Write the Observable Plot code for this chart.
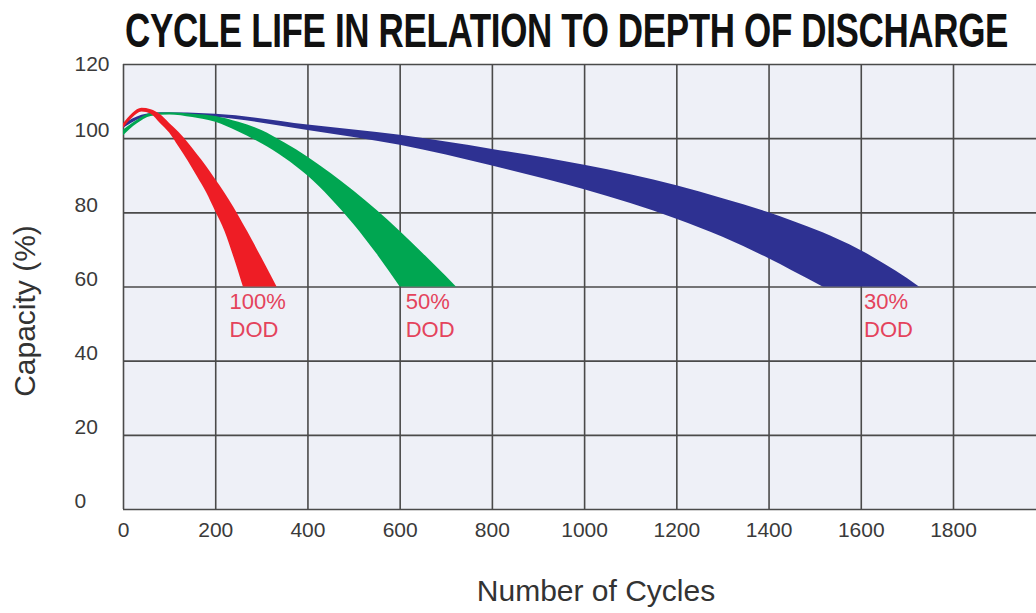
<!DOCTYPE html>
<html><head><meta charset="utf-8">
<script src="https://cdn.jsdelivr.net/npm/d3@7"></script>
<script src="https://cdn.jsdelivr.net/npm/@observablehq/plot@0.6"></script>
<style>
html,body{margin:0;padding:0;background:#fff;width:1036px;height:613px;overflow:hidden;}
#title{height:58px;position:relative;}
#title span{position:absolute;left:125px;top:6px;font-family:"Liberation Sans",Arial,sans-serif;font-weight:bold;font-size:49px;line-height:1;color:#111;white-space:nowrap;transform-origin:0 0;letter-spacing:-0.5px;}
#chart svg{display:block;}
</style></head><body>
<div id="title"><span>CYCLE LIFE IN RELATION TO DEPTH OF DISCHARGE</span></div>
<div id="chart"></div>
<script>
// ---- data ----
const xTicks = [0, 200, 400, 600, 800, 1000, 1200, 1400, 1600, 1800];
const yTicks = [0, 20, 40, 60, 80, 100, 120];
const cutoff = 60; // bands are cut off at 60 % capacity

// 100% DOD band (red): cycles, upper edge and lower edge of capacity (%)
const redCycles = [0, 20, 40, 60, 80, 100, 120, 140, 160, 180, 200, 220, 240, 260, 280, 300, 320, 333, 345];
const redUpper  = [104, 106.8, 108.2, 107.8, 106.5, 104.1, 101.7, 98.9, 95.7, 92.5, 88.9, 85.3, 81.3, 76.9, 72.5, 67.8, 63.1, 60, 56.8];
const redLower  = [102.8, 105.6, 107.2, 106.6, 104.1, 101.5, 97.8, 94, 89.8, 85.5, 80.3, 75, 67.8, 60, 52.4, 44.8, 37.2, 32.3, 27.7];

// 50% DOD band (green)
const greenCycles = [0, 30, 60, 100, 150, 200, 250, 300, 350, 400, 450, 500, 550, 600, 650, 700, 722, 740];
const greenUpper  = [102.3, 105, 106.8, 107, 106.6, 106.0, 104.4, 102.2, 98.8, 95.0, 90.6, 85.8, 80.6, 75.0, 69.0, 62.8, 60, 57.6];
const greenLower  = [100.8, 104, 106, 106.4, 105.7, 104.4, 101.8, 98.6, 94.7, 89.9, 83.8, 76.8, 68.8, 60, 50.8, 41.6, 37.6, 34.3];

// 30% DOD band (blue)
const blueCycles = [0, 40, 80, 200, 400, 600, 800, 1000, 1200, 1300, 1400, 1450, 1517, 1550, 1600, 1650, 1700, 1726, 1760];
const blueUpper  = [103.8, 106.3, 107, 106.6, 103.7, 100.9, 97.1, 92.8, 87.3, 83.8, 80.0, 77.8, 74.6, 72.8, 69.8, 66.2, 62.3, 60, 56.8];
const blueLower  = [102.8, 105.5, 106.6, 105.8, 102.2, 98.2, 92.6, 86.2, 78.3, 73.4, 67.6, 64.4, 60, 57.8, 54.4, 51.0, 47.6, 45.8, 43.5];

const labelText = ["100%\nDOD", "50%\nDOD", "30%\nDOD"];
const labelCycles = [230, 612, 1606];
const labelY = 59.4;

// ---- build tables ----
const band = (xs, up, lo) => xs.map((x, i) => ({x, y1: lo[i], y2: up[i]}));
const red = band(redCycles, redUpper, redLower);
const green = band(greenCycles, greenUpper, greenLower);
const blue = band(blueCycles, blueUpper, blueLower);
const labels = labelText.map((t, i) => ({t, x: labelCycles[i], y: labelY}));

const font = "'Liberation Sans', Arial, Helvetica, sans-serif";

const chart = Plot.plot({
  width: 1036,
  height: 555,
  marginTop: 6,
  marginBottom: 104,
  marginLeft: 123,
  marginRight: 0,
  style: {fontFamily: font, background: "#fff", color: "#3a3a3a", overflow: "visible"},
  x: {domain: [0, 1980], label: null},
  y: {domain: [0, 120], label: null},
  marks: [
    Plot.frame({fill: "#eef0f7", stroke: null}),
    Plot.gridX(xTicks, {stroke: "#4a4a4a", strokeOpacity: 1, strokeWidth: 1.6}),
    Plot.gridY(yTicks, {stroke: "#4a4a4a", strokeOpacity: 1, strokeWidth: 1.6}),
    Plot.areaY(blue, {x: "x", y1: "y1", y2: "y2", fill: "#2e3192", curve: "monotone-x"}),
    Plot.areaY(green, {x: "x", y1: "y1", y2: "y2", fill: "#00a651", curve: "monotone-x"}),
    Plot.areaY(red, {x: "x", y1: "y1", y2: "y2", fill: "#ee1d25", curve: "monotone-x"}),
    Plot.text(labels, {x: "x", y: "y", text: "t", textAnchor: "start", lineAnchor: "top",
      lineHeight: 1.27, fontSize: 22, fill: "#e4435c"}),
    Plot.axisX({ticks: xTicks, tickSize: 0, tickPadding: 13, fontSize: 21, label: null,
      tickFormat: d => String(d), fill: "#3a3a3a"}),
    Plot.axisY({ticks: yTicks.filter(d => d < 120), tickSize: 0, tickPadding: 49, textAnchor: "start",
      dy: -8, fontSize: 21, label: null, tickFormat: d => String(d), fill: "#3a3a3a"}),
    Plot.axisY({ticks: [120], tickSize: 0, tickPadding: 49, textAnchor: "start",
      dy: 0, fontSize: 21, label: null, tickFormat: d => String(d), fill: "#3a3a3a"}),
    Plot.text(["Number of Cycles"], {frameAnchor: "bottom", textAnchor: "middle", dx: 16, dy: 82, lineAnchor: "middle",
      fontSize: 30, fill: "#333"}),
    Plot.text(["Capacity (%)"], {frameAnchor: "left", textAnchor: "middle", rotate: -90, dx: -98, dy: 24, lineAnchor: "middle",
      fontSize: 30, fill: "#333"})
  ]
});
document.getElementById("chart").appendChild(chart);

// clip the bands at the 60 % cutoff, using the chart's own y scale
const ys = chart.scale("y");
const yCut = ys && ys.apply ? ys.apply(cutoff)
  : d3.scaleLinear().domain([0, 120]).range([555 - 104, 6])(cutoff);
const ns = "http://www.w3.org/2000/svg";
const defs = document.createElementNS(ns, "defs");
const cp = document.createElementNS(ns, "clipPath");
cp.setAttribute("id", "cut60");
const rect = document.createElementNS(ns, "rect");
rect.setAttribute("x", 0);
rect.setAttribute("y", 0);
rect.setAttribute("width", 1036);
rect.setAttribute("height", yCut);
cp.appendChild(rect);
defs.appendChild(cp);
chart.insertBefore(defs, chart.firstChild);
chart.querySelectorAll('g[aria-label="area"]').forEach(g => g.setAttribute("clip-path", "url(#cut60)"));

const span = document.querySelector("#title span");
const w = span.getBoundingClientRect().width;
span.style.transform = `scaleX(${883 / w})`;
</script>
</body></html>
